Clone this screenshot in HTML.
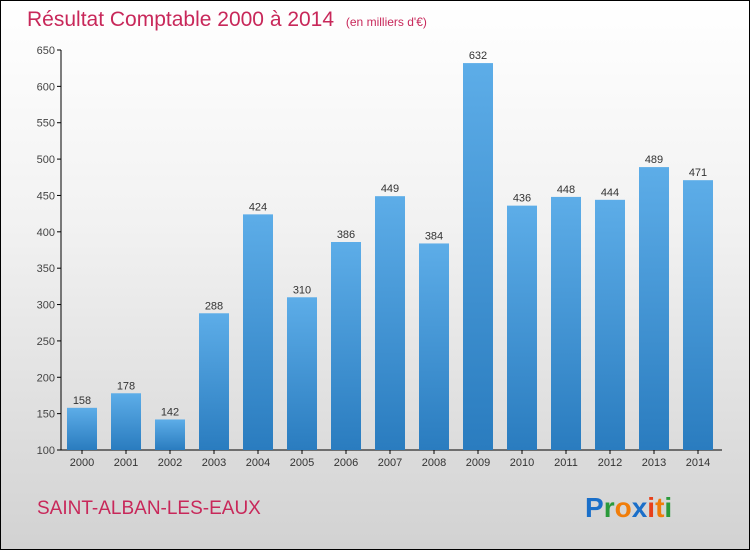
<!DOCTYPE html>
<html><head><meta charset="utf-8"><style>
body{margin:0}
#c{width:748px;height:548px;border:1px solid #000;position:relative;background:linear-gradient(#ffffff 0%,#f2f2f2 40%,#d2d2d2 100%);font-family:"Liberation Sans",sans-serif;overflow:hidden}
</style></head><body>
<div id="c">
<svg width="748" height="548" id="svg">
<defs><linearGradient id="bg" x1="0" y1="0" x2="0" y2="1"><stop offset="0" stop-color="#5dade8"/><stop offset="1" stop-color="#2a7cbf"/></linearGradient></defs>
<text x="26" y="25" font-size="21" fill="#c8285a">Résultat Comptable 2000 à 2014 <tspan font-size="12" dx="6">(en milliers d'€)</tspan></text>
<g id="axes"></g><g id="bars"></g>
<text x="36" y="513" font-size="19" fill="#c8285a">SAINT-ALBAN-LES-EAUX</text>
<g font-size="28" font-family="Liberation Sans, sans-serif" font-weight="bold">
<text x="584" y="516"><tspan fill="#1a6fc9">P</tspan><tspan fill="#2a9a3a">r</tspan><tspan fill="#f07d0a">o</tspan><tspan fill="#1a6fc9">x</tspan><tspan fill="#e8401a">i</tspan><tspan fill="#f07d0a">t</tspan><tspan fill="#2a9a3a">i</tspan></text></g>
</svg></div>
<script>
const years=["2000","2001","2002","2003","2004","2005","2006","2007","2008","2009","2010","2011","2012","2013","2014"];
const values=[158,178,142,288,424,310,386,449,384,632,436,448,444,489,471];
const ticks=[100,150,200,250,300,350,400,450,500,550,600,650];
const NS="http://www.w3.org/2000/svg";
const y0=449,yTop=49,vMin=100,vMax=650;
function y(v){return y0-(v-vMin)*(y0-yTop)/(vMax-vMin);}
function x(i){return 81+i*44;}
function mk(t,a,p){const e=document.createElementNS(NS,t);for(const k in a)e.setAttribute(k,a[k]);p.appendChild(e);return e;}
const ax=document.getElementById('axes'),bs=document.getElementById('bars');
const al=mk('line',{x1:60,y1:yTop,x2:60,y2:y0,stroke:'#000'},ax);


const xl=mk('line',{x1:60,y1:y0,x2:721,y2:y0,stroke:'#000'},ax);


ticks.forEach(t=>{
 mk('line',{x1:56,y1:y(t),x2:60,y2:y(t),stroke:'#000'},ax);
 const tx=mk('text',{x:54,y:y(t)+4,'font-size':11,fill:'#444','text-anchor':'end'},ax);
 tx.textContent=t;
 
 
});
years.forEach((yr,i)=>{
 const v=values[i];
 const r=mk('rect',{x:x(i)-15,y:y(v),width:30,height:y0-y(v),fill:'url(#bg)'},bs);
 
 
 const l=mk('text',{x:x(i),y:y(v)-4,'font-size':11,fill:'#333','text-anchor':'middle'},bs);
 l.textContent=v;
 
 
 mk('line',{x1:x(i),y1:y0,x2:x(i),y2:y0+4,stroke:'#000'},ax);
 const xt=mk('text',{x:x(i),y:y0+16,'font-size':11,fill:'#333','text-anchor':'middle'},ax);
 xt.textContent=yr;
 
 
});
</script>
</body></html>
